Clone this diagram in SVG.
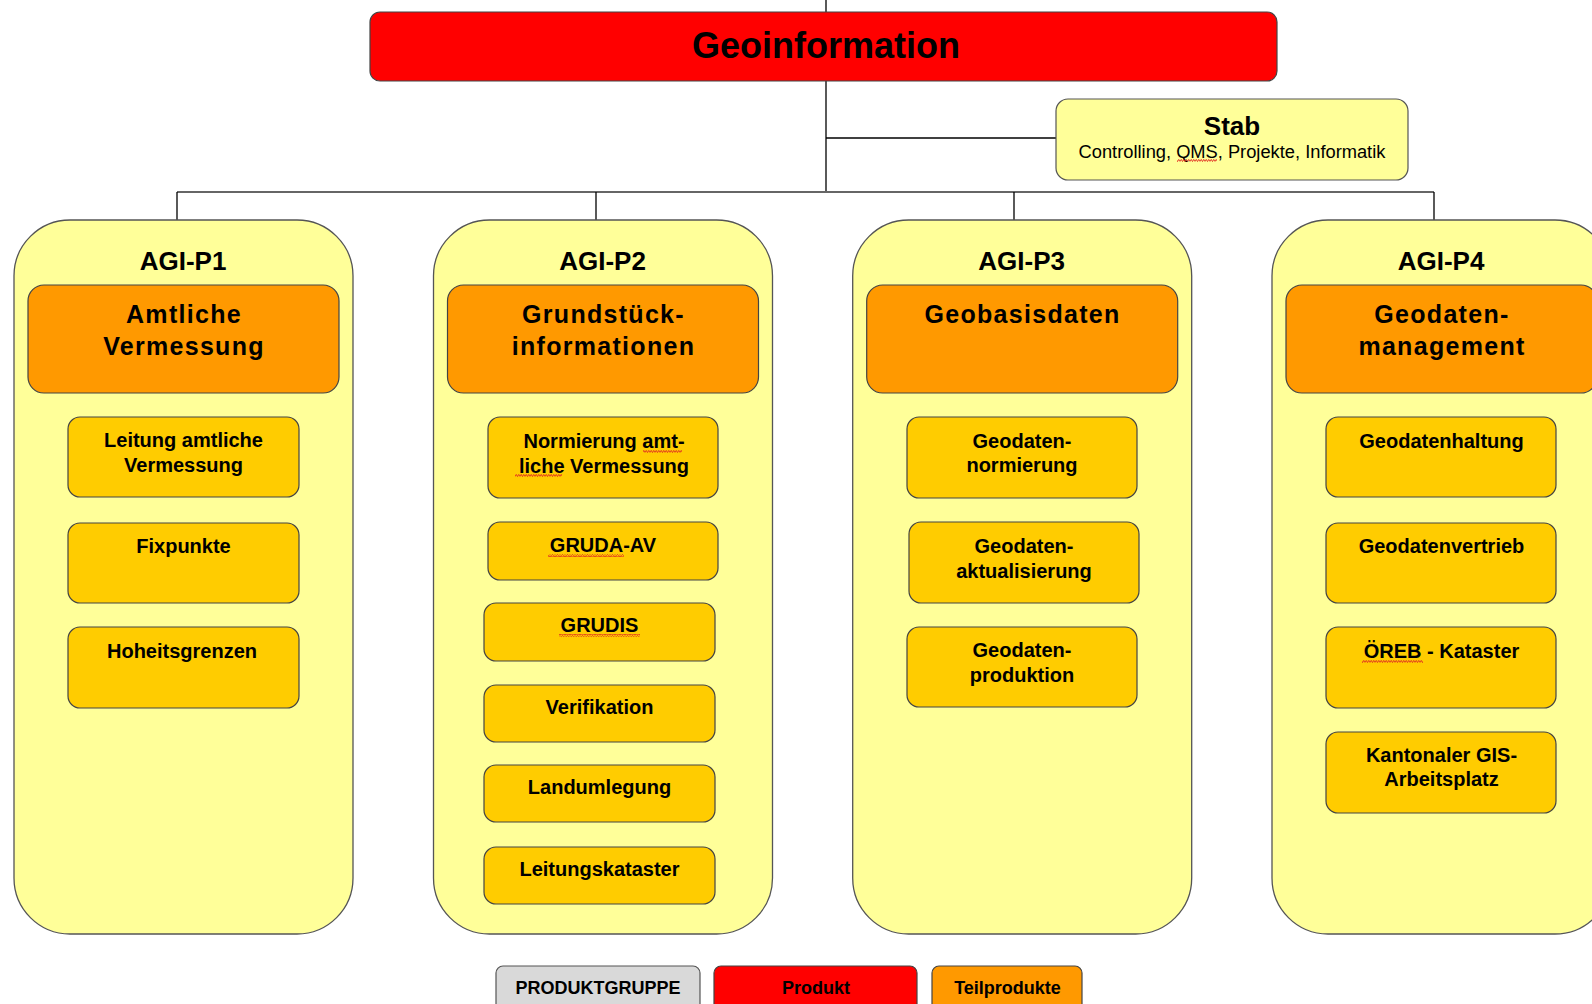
<svg xmlns="http://www.w3.org/2000/svg" width="1592" height="1004" viewBox="0 0 1592 1004">
<style>
text{font-family:"Liberation Sans",Arial,sans-serif;font-weight:bold;fill:#000;text-anchor:middle}
.grp{fill:#ffff99;stroke:#555;stroke-width:1.3}
.prod{fill:#ff9900;stroke:#444;stroke-width:1.2}
.sub{fill:#ffcc00;stroke:#444;stroke-width:1.2}
.gt{font-size:26px}
.pt{font-size:25px;letter-spacing:1.3px}
.st{font-size:20px}
.lg{font-size:18px}
.ln{stroke:#000;stroke-width:1.3;fill:none}
.bar{stroke:#666;stroke-width:1.8;fill:none}
.sp{fill:url(#wave)}
</style>
<defs>
<pattern id="wave" width="5" height="3" patternUnits="userSpaceOnUse">
<path d="M0,2.6 L1.25,0.4 L2.5,2.6 L3.75,0.4 L5,2.6" stroke="#e03020" stroke-width="0.9" fill="none"/>
</pattern>
</defs>
<rect width="1592" height="1004" fill="#fff"/>
<g id="connectors">
<line class="ln" x1="826" y1="0" x2="826" y2="192"/>
<line class="ln" x1="826" y1="138" x2="1056" y2="138"/>
<line class="bar" x1="177" y1="192" x2="1434" y2="192"/>
<line class="ln" x1="177" y1="192" x2="177" y2="221"/>
<line class="ln" x1="596" y1="192" x2="596" y2="221"/>
<line class="ln" x1="1014" y1="192" x2="1014" y2="221"/>
<line class="ln" x1="1434" y1="192" x2="1434" y2="221"/>
</g>
<g id="geoinformation">
<rect x="370" y="12" width="907" height="69" rx="10" fill="#ff0000" stroke="#444" stroke-width="1.2"/>
<text x="826" y="58" style="font-size:36px">Geoinformation</text>
</g>
<g id="stab">
<rect x="1056" y="99" width="352" height="81" rx="12" fill="#ffff99" stroke="#555" stroke-width="1.2"/>
<text x="1232" y="135" style="font-size:26px">Stab</text>
<text x="1232" y="158" style="font-size:18.3px;font-weight:normal">Controlling, QMS, Projekte, Informatik</text>
<rect class="sp" x="1177" y="159" width="40" height="3"/>
</g>
<g id="agi-p1">
<rect class="grp" x="14" y="220" width="339" height="714" rx="56"/>
<text class="gt" x="183" y="270">AGI-P1</text>
<rect class="prod" x="28" y="285" width="311" height="108" rx="16"/>
<text class="pt" x="184" y="323">Amtliche</text>
<text class="pt" x="184" y="355">Vermessung</text>
</g>
<g id="p1-leitung"><rect class="sub" x="68" y="417" width="231" height="80" rx="12"/><text class="st" x="183.5" y="447">Leitung amtliche</text><text class="st" x="183.5" y="472">Vermessung</text></g>
<g id="p1-fixpunkte"><rect class="sub" x="68" y="523" width="231" height="80" rx="12"/><text class="st" x="183.5" y="553">Fixpunkte</text></g>
<g id="p1-hoheitsgrenzen"><rect class="sub" x="68" y="627" width="231" height="81" rx="12"/><text class="st" x="182" y="658">Hoheitsgrenzen</text></g>
<g id="agi-p2">
<rect class="grp" x="433.5" y="220" width="339" height="714" rx="56"/>
<text class="gt" x="602.5" y="270">AGI-P2</text>
<rect class="prod" x="447.5" y="285" width="311" height="108" rx="16"/>
<text class="pt" x="603.5" y="323">Grundstück-</text>
<text class="pt" x="603.5" y="355">informationen</text>
</g>
<g id="p2-normierung"><rect class="sub" x="488" y="417" width="230" height="81" rx="12"/><text class="st" x="604" y="448">Normierung amt-</text><text class="st" x="604" y="473">liche Vermessung</text><rect class="sp" x="643" y="450" width="39" height="3"/><rect class="sp" x="515" y="474" width="47" height="3"/></g>
<g id="p2-gruda"><rect class="sub" x="488" y="522" width="230" height="58" rx="12"/><text class="st" x="603" y="552">GRUDA-AV</text><rect class="sp" x="548" y="554" width="76" height="3"/></g>
<g id="p2-grudis"><rect class="sub" x="484" y="603" width="231" height="58" rx="12"/><text class="st" x="599.5" y="632">GRUDIS</text><rect class="sp" x="559" y="634" width="81" height="3"/></g>
<g id="p2-verifikation"><rect class="sub" x="484" y="685" width="231" height="57" rx="12"/><text class="st" x="599.5" y="714">Verifikation</text></g>
<g id="p2-landumlegung"><rect class="sub" x="484" y="765" width="231" height="57" rx="12"/><text class="st" x="599.5" y="794">Landumlegung</text></g>
<g id="p2-leitungskataster"><rect class="sub" x="484" y="847" width="231" height="57" rx="12"/><text class="st" x="599.5" y="876">Leitungskataster</text></g>
<g id="agi-p3">
<rect class="grp" x="852.7" y="220" width="339" height="714" rx="56"/>
<text class="gt" x="1021.7" y="270">AGI-P3</text>
<rect class="prod" x="866.7" y="285" width="311" height="108" rx="16"/>
<text class="pt" x="1022.5" y="323">Geobasisdaten</text>
</g>
<g id="p3-normierung"><rect class="sub" x="907" y="417" width="230" height="81" rx="12"/><text class="st" x="1022" y="448">Geodaten-</text><text class="st" x="1022" y="472">normierung</text></g>
<g id="p3-aktualisierung"><rect class="sub" x="909" y="522" width="230" height="81" rx="12"/><text class="st" x="1024" y="553">Geodaten-</text><text class="st" x="1024" y="578">aktualisierung</text></g>
<g id="p3-produktion"><rect class="sub" x="907" y="627" width="230" height="80" rx="12"/><text class="st" x="1022" y="657">Geodaten-</text><text class="st" x="1022" y="682">produktion</text></g>
<g id="agi-p4">
<rect class="grp" x="1272" y="220" width="339" height="714" rx="56"/>
<text class="gt" x="1441" y="270">AGI-P4</text>
<rect class="prod" x="1286" y="285" width="311" height="108" rx="16"/>
<text class="pt" x="1442" y="323">Geodaten-</text>
<text class="pt" x="1442" y="355">management</text>
</g>
<g id="p4-haltung"><rect class="sub" x="1326" y="417" width="230" height="80" rx="12"/><text class="st" x="1441.5" y="448">Geodatenhaltung</text></g>
<g id="p4-vertrieb"><rect class="sub" x="1326" y="523" width="230" height="80" rx="12"/><text class="st" x="1441.5" y="553">Geodatenvertrieb</text></g>
<g id="p4-oereb"><rect class="sub" x="1326" y="627" width="230" height="81" rx="12"/><text class="st" x="1441.5" y="658">ÖREB - Kataster</text><rect class="sp" x="1362" y="660" width="61" height="3"/></g>
<g id="p4-gis"><rect class="sub" x="1326" y="732" width="230" height="81" rx="12"/><text class="st" x="1441.5" y="762">Kantonaler GIS-</text><text class="st" x="1441.5" y="786">Arbeitsplatz</text></g>
<g id="legend">
<g id="legend-produktgruppe"><rect x="496" y="966" width="204" height="50" rx="7" fill="#d9d9d9" stroke="#555" stroke-width="1.2"/><text class="lg" x="598" y="994">PRODUKTGRUPPE</text></g>
<g id="legend-produkt"><rect x="714" y="966" width="203" height="50" rx="7" fill="#ff0000" stroke="#444" stroke-width="1.2"/><text class="lg" x="816" y="994">Produkt</text></g>
<g id="legend-teilprodukte"><rect x="932" y="966" width="150" height="50" rx="7" fill="#ff9900" stroke="#444" stroke-width="1.2"/><text class="lg" x="1007.5" y="994">Teilprodukte</text></g>
</g>
</svg>
